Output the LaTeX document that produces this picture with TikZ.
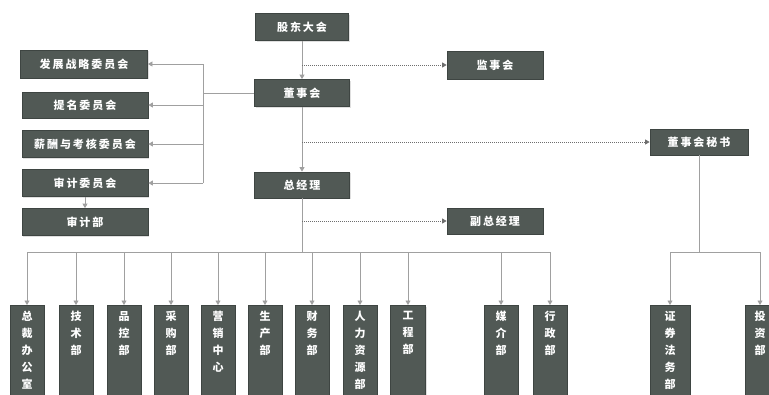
\documentclass[tikz,border=0pt]{standalone}
\usepackage{fontspec}
\newfontfamily\cjk[LetterSpace=18]{Noto Sans CJK SC}
\newfontfamily\cjkv{Noto Sans CJK SC}
\usetikzlibrary{arrows.meta,shadows}
\definecolor{boxc}{HTML}{515955}
\definecolor{boxd}{HTML}{3E4542}
\definecolor{linec}{HTML}{A0A0A0}
\definecolor{dotc}{HTML}{6E6E6E}
\tikzset{
  orgbox/.style={rectangle, fill=boxc, draw=boxd, line width=0.8pt, inner sep=0pt,
    text=white, font=\cjk\fontsize{11}{13}\selectfont\bfseries,
    drop shadow={opacity=0.25, shadow xshift=1pt, shadow yshift=-1.2pt}},
  hbox/.style={orgbox, minimum height=27pt},
  vbox/.style={orgbox, minimum width=34pt, minimum height=92pt, anchor=north},
  vlabel/.style={anchor=north, text=white, inner sep=0pt, align=center,
    font=\cjkv\fontsize{11}{17}\selectfont\bfseries},
  conn/.style={draw=linec, line width=0.8pt},
  arr/.style={conn, -{Triangle[length=4.5pt,width=5pt]}, color=linec},
  dotarr/.style={arr, dash pattern=on 1pt off 1pt, draw=dotc}
}
\begin{document}
\begin{tikzpicture}[x=1pt,y=-1pt]
\clip (0,0) rectangle (769,394);
\fill[white] (0,0) rectangle (769,394);
% top chain
\node[hbox, minimum width=93pt] (gd) at (302,27) {股东大会};
\node[hbox, minimum width=95pt] (dsh) at (302,93) {董事会};
\node[hbox, minimum width=96pt, minimum height=28pt] (jsh) at (495,65) {监事会};
\node[hbox, minimum width=95pt, minimum height=26pt] (zjl) at (302,185) {总经理};
\node[hbox, minimum width=96pt, minimum height=26pt] (fzjl) at (495,221) {副总经理};
\node[hbox, minimum width=98pt, minimum height=26pt] (ms) at (699,142) {董事会秘书};
% committees
\node[hbox, minimum width=127pt, minimum height=28pt] (c1) at (84,64) {发展战略委员会};
\node[hbox, minimum width=126pt, minimum height=26pt] (c2) at (85,105) {提名委员会};
\node[hbox, minimum width=126pt] (c3) at (85,144) {薪酬与考核委员会};
\node[hbox, minimum width=126pt] (c4) at (85,183) {审计委员会};
\node[hbox, minimum width=126pt] (sjb) at (85,222) {审计部};
% bottom departments
\foreach \n/\x/\w/\t in {d1/27/34/总\\裁\\办\\公\\室, d2/76/34/技\\术\\部, d3/124/34/品\\控\\部,
  d4/171/34/采\\购\\部, d5/218/34/营\\销\\中\\心, d6/265/34/生\\产\\部, d7/312/34/财\\务\\部,
  d8/360/34/人\\力\\资\\源\\部, d9/408/35/工\\程\\部, d10/501/34/媒\\介\\部, d11/550/34/行\\政\\部,
  d12/670/40/证\\券\\法\\务\\部, d13/760/30/投\\资\\部}{
  \node[vbox, minimum width=\w pt] (\n) at (\x,305) {};
  \node[vlabel] (\n t) at (\x,311) {\t};
}
% trunk
\coordinate (bus) at (302,252);
\draw[arr] (gd.south) -- (dsh.north);
\draw[arr] (dsh.south) -- (zjl.north);
\draw[conn] (zjl.south) -- (bus);
% branch to supervisory board
\coordinate (bj) at (302,65);
\draw[dotarr] (bj) -- (jsh.west);
% branch to secretary
\coordinate (bm) at (302,142);
\draw[dotarr] (bm) -- (ms.west);
% branch to vice GM
\coordinate (bf) at (302,221);
\draw[dotarr] (bf) -- (fzjl.west);
% committee bus
\coordinate (lb) at (203,93);
\coordinate (lt) at (203,64);
\coordinate (lbot) at (203,183);
\draw[conn] (dsh.west) -- (lb);
\draw[conn] (lt) -- (lbot);
\draw[arr] (lt) -- (c1.east);
\coordinate (l2) at (203,105);
\coordinate (l3) at (203,144);
\draw[arr] (l2) -- (c2.east);
\draw[arr] (l3) -- (c3.east);
\draw[arr] (lbot) -- (c4.east);
\draw[arr] (c4.south) -- (sjb.north);
% department bus
\coordinate (busl) at (27,252);
\coordinate (busr) at (550,252);
\draw[conn] (busl) -- (busr);
\foreach \n in {d1,d2,d3,d4,d5,d6,d7,d8,d9,d10,d11}{
  \draw[arr] (\n.north |- bus) -- (\n.north);
}
% secretary bus
\coordinate (rbus) at (699,252);
\coordinate (rbl) at (670,252);
\coordinate (rbr) at (760,252);
\draw[conn] (ms.south) -- (rbus);
\draw[conn] (rbl) -- (rbr);
\draw[arr] (rbl) -- (d12.north);
\draw[arr] (rbr) -- (d13.north);
\end{tikzpicture}
\end{document}
